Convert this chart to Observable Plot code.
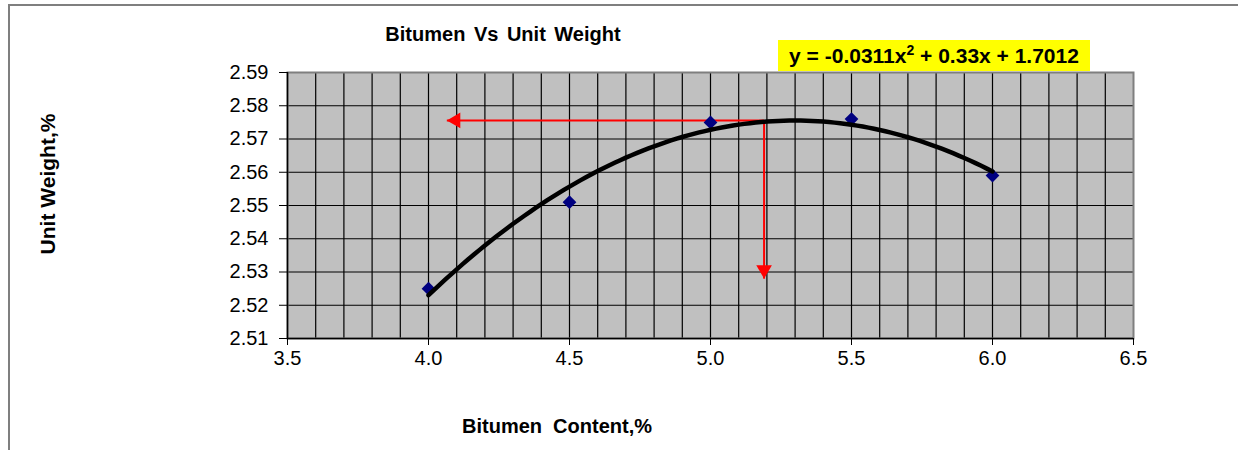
<!DOCTYPE html>
<html><head><meta charset="utf-8">
<script src="https://cdn.jsdelivr.net/npm/d3@7"></script>
<script src="https://cdn.jsdelivr.net/npm/@observablehq/plot@0.6"></script>
<style>
body{margin:0;background:#fff;}
#wrap{position:relative;width:1238px;height:450px;overflow:hidden;background:#fff;}
#border{position:absolute;left:8px;top:4px;width:1400px;height:600px;border-left:2px solid #7f7f7f;border-top:2px solid #7f7f7f;}
#chart{position:absolute;left:0;top:0;}
</style></head><body>
<div id="wrap"><div id="border"></div><div id="chart"></div></div>
<script>
// ---- data ----
const bitumenContent = [4.0, 4.5, 5.0, 5.5, 6.0];
const unitWeight = [2.525, 2.551, 2.575, 2.576, 2.559];
const xTicks = [3.5, 4.0, 4.5, 5.0, 5.5, 6.0, 6.5];
const yTicks = [2.51, 2.52, 2.53, 2.54, 2.55, 2.56, 2.57, 2.58, 2.59];
const xGrid = [3.6, 3.7, 3.8, 3.9, 4.0, 4.1, 4.2, 4.3, 4.4, 4.5, 4.6, 4.7, 4.8, 4.9, 5.0,
               5.1, 5.2, 5.3, 5.4, 5.5, 5.6, 5.7, 5.8, 5.9, 6.0, 6.1, 6.2, 6.3, 6.4];
const optimumBitumen = 5.19;
const optimumWeight = 2.5756;
const arrowLeftEnd = 4.065;
const arrowDownEnd = 2.528;
const titleText = "Bitumen Vs Unit Weight";
const xTitle = "Bitumen  Content,%";
const yTitle = "Unit Weight,%";
const eqParts = ["y = -0.0311x", "2", " + 0.33x + 1.7012"];

// ---- quadratic least-squares trendline (as Excel does) ----
function polyfit2(xs, ys) {
  const S = k => d3.sum(xs, x => x ** k);
  const T = k => d3.sum(xs, (x, i) => ys[i] * x ** k);
  const A = [[S(0), S(1), S(2), T(0)], [S(1), S(2), S(3), T(1)], [S(2), S(3), S(4), T(2)]];
  for (let i = 0; i < 3; i++) {
    for (let j = i + 1; j < 3; j++) {
      const f = A[j][i] / A[i][i];
      for (let k = i; k < 4; k++) A[j][k] -= f * A[i][k];
    }
  }
  const c = [0, 0, 0];
  for (let i = 2; i >= 0; i--) {
    let s = A[i][3];
    for (let k = i + 1; k < 3; k++) s -= A[i][k] * c[k];
    c[i] = s / A[i][i];
  }
  return c;
}
const coef = polyfit2(bitumenContent, unitWeight);
const x0 = d3.min(bitumenContent), x1 = d3.max(bitumenContent);
const trend = d3.range(0, 101).map(i => {
  const x = x0 + (x1 - x0) * i / 100;
  return {x, y: coef[0] + coef[1] * x + coef[2] * x * x};
});
const points = bitumenContent.map((x, i) => ({x, y: unitWeight[i]}));
const redLines = [
  {x1: optimumBitumen, y1: optimumWeight, x2: arrowLeftEnd, y2: optimumWeight},
  {x1: optimumBitumen, y1: optimumWeight, x2: optimumBitumen, y2: arrowDownEnd}
];
const leftHead = [{x: arrowLeftEnd, y: optimumWeight}];
const downHead = [{x: optimumBitumen, y: arrowDownEnd}];

const svg = Plot.plot({
  width: 1238, height: 450,
  marginLeft: 287, marginTop: 72, marginRight: 105, marginBottom: 112,
  style: {fontFamily: "'Liberation Sans', Arial, sans-serif", fontSize: "20px", background: "transparent", color: "#000"},
  x: {domain: [3.5, 6.5]},
  y: {domain: [2.51, 2.59]},
  marks: [
    Plot.frame({fill: "#c0c0c0", stroke: null}),
    Plot.ruleX(xGrid, {stroke: "#000", strokeWidth: 1.2}),
    Plot.ruleY(yTicks, {stroke: "#000", strokeWidth: 1.2}),
    Plot.frame({stroke: "#7f7f7f", strokeWidth: 2}),
    Plot.ruleX([3.5], {stroke: "#000", strokeWidth: 1.5}),
    Plot.ruleY([2.51], {stroke: "#000", strokeWidth: 1.5}),
    Plot.axisX({ticks: xTicks, tickFormat: d => d.toFixed(1), tickSize: 7, tickPadding: 5, label: null, fontSize: 20}),
    Plot.axisY({ticks: yTicks, tickFormat: d => d.toFixed(2), tickSize: 8, tickPadding: 11, label: null, fontSize: 20}),
    Plot.link(redLines, {x1: "x1", y1: "y1", x2: "x2", y2: "y2", stroke: "#ff0000", strokeWidth: 2}),
    Plot.dot(leftHead, {x: "x", y: "y", symbol: "triangle", r: 5.8, rotate: -90, dx: 9, fill: "#ff0000", stroke: null}),
    Plot.dot(downHead, {x: "x", y: "y", symbol: "triangle", r: 5.8, rotate: 180, dy: -9, fill: "#ff0000", stroke: null}),
    Plot.dot(points, {x: "x", y: "y", symbol: "diamond2", r: 6.2, fill: "#000080", stroke: null}),
    Plot.line(trend, {x: "x", y: "y", stroke: "#000", strokeWidth: 4.5})
  ]
});
document.getElementById("chart").appendChild(svg);

const s = d3.select(svg);
const ff = "'Liberation Sans', Arial, sans-serif";
s.append("text").attr("x", 503).attr("y", 41).attr("text-anchor", "middle")
  .attr("font-family", ff).attr("font-size", 20).attr("font-weight", "bold").attr("fill", "#000")
  .attr("word-spacing", 3).text(titleText);
s.append("text").attr("x", 557).attr("y", 433).attr("text-anchor", "middle")
  .attr("font-family", ff).attr("font-size", 20).attr("font-weight", "bold").attr("fill", "#000")
  .style("white-space", "pre").text(xTitle);
s.append("text").attr("transform", "translate(55,184) rotate(-90)").attr("text-anchor", "middle")
  .attr("font-family", ff).attr("font-size", 21).attr("font-weight", "bold").attr("fill", "#000")
  .text(yTitle);
s.append("rect").attr("x", 778).attr("y", 40).attr("width", 312).attr("height", 31).attr("fill", "#ffff00");
const eq = s.append("text").attr("x", 934).attr("y", 63).attr("text-anchor", "middle")
  .attr("font-family", ff).attr("font-size", 21).attr("font-weight", "bold").attr("fill", "#000")
  .style("white-space", "pre");
eq.append("tspan").text(eqParts[0]);
eq.append("tspan").attr("font-size", 14).attr("dy", -8).text(eqParts[1]);
eq.append("tspan").attr("dy", 8).text(eqParts[2]);
</script>
</body></html>
